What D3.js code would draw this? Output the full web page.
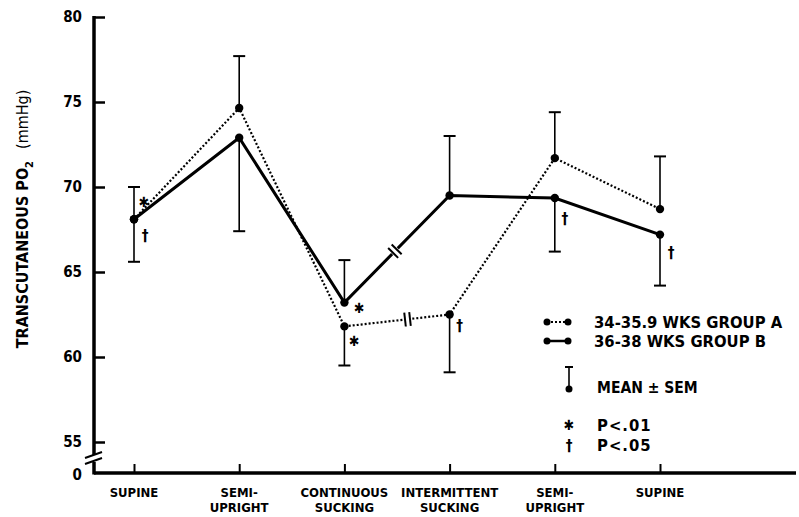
<!DOCTYPE html>
<html>
<head>
<meta charset="utf-8">
<script src="https://cdn.jsdelivr.net/npm/d3@7"></script>
<style>
  body { margin: 0; background: #fff; }
  text { font-family: "DejaVu Sans Condensed", "DejaVu Sans", sans-serif; font-weight: bold; fill: #000; }
</style>
</head>
<body>
<svg id="chart" width="799" height="517"></svg>
<script>
// categories along the x axis (two lines each)
const categories = ["SUPINE", "SEMI-UPRIGHT", "CONTINUOUS SUCKING", "INTERMITTENT SUCKING", "SEMI-UPRIGHT 2", "SUPINE 2"];
const catLabels = [["SUPINE"], ["SEMI-", "UPRIGHT"], ["CONTINUOUS", "SUCKING"], ["INTERMITTENT", "SUCKING"], ["SEMI-", "UPRIGHT"], ["SUPINE"]];

// group A: 34-35.9 wks (dotted), group B: 36-38 wks (solid)
const groupA = [68.1, 74.65, 61.8, 62.5, 71.7, 68.7];
const groupB = [68.1, 72.9, 63.2, 69.5, 69.35, 67.2];
const semA = [1.9, 3.05, 2.3, 3.4, 2.7, 3.1];
const semB = [2.5, 5.5, 2.5, 3.5, 3.15, 3.0];
const dirA = [1, 1, -1, -1, 1, 1];   // 1 = bar drawn above mean, -1 = below
const dirB = [-1, -1, 1, 1, -1, -1];

// significance marks: [category index, group, symbol]
const marks = [
  [0, "A", "*"], [0, "B", "†"],
  [2, "B", "*"], [2, "A", "*"],
  [3, "A", "†"], [4, "B", "†"], [5, "B", "†"]
];

const yTicks = [55, 60, 65, 70, 75, 80];

const svg = d3.select("#chart");

const x = d3.scalePoint().domain(categories).range([134, 660]);
const y = d3.scaleLinear().domain([55, 80]).range([442, 17]);
const axisX = 94, axisY = 473;
const STAR = "\u2731";

// y axis
const yAxis = d3.axisRight(y).tickValues(yTicks).tickSize(11).tickFormat("");
const gy = svg.append("g").attr("transform", `translate(${axisX},0)`).call(yAxis);
gy.select(".domain").remove();
gy.selectAll(".tick line").attr("stroke", "#000").attr("stroke-width", 2.5);
svg.append("line").attr("x1", axisX).attr("x2", axisX).attr("y1", y(80) - 1).attr("y2", 455)
  .attr("stroke", "#000").attr("stroke-width", 3.5);
svg.append("line").attr("x1", axisX).attr("x2", axisX).attr("y1", 462).attr("y2", axisY + 1.5)
  .attr("stroke", "#000").attr("stroke-width", 3.5);
// axis break
[455, 461].forEach(d => {
  svg.append("line").attr("x1", axisX - 9).attr("y1", d + 3).attr("x2", axisX + 8).attr("y2", d - 3)
    .attr("stroke", "#000").attr("stroke-width", 2);
});
svg.selectAll(".ylab").data(yTicks).join("text")
  .attr("x", 82).attr("y", d => y(d) + 5).attr("text-anchor", "end")
  .style("font-size", "15px").text(d => d);
svg.append("text").attr("x", 82).attr("y", 480).attr("text-anchor", "end").style("font-size", "15px").text("0");

// x axis
svg.append("line").attr("x1", axisX).attr("x2", 796).attr("y1", axisY).attr("y2", axisY)
  .attr("stroke", "#000").attr("stroke-width", 3.5);
const xAxis = d3.axisTop(x).tickSize(9).tickFormat("");
const gx = svg.append("g").attr("transform", `translate(0,${axisY})`).call(xAxis);
gx.select(".domain").remove();
gx.selectAll(".tick line").attr("stroke", "#000").attr("stroke-width", 2);
categories.forEach((c, i) => {
  catLabels[i].forEach((t, j) => {
    svg.append("text").attr("x", x(c)).attr("y", 497 + j * 15).attr("text-anchor", "middle")
      .style("font-size", "13px").text(t);
  });
});

// y axis title
const yt = svg.append("text").attr("transform", "translate(28,219) rotate(-90)")
  .attr("text-anchor", "middle").style("font-size", "16px");
yt.append("tspan").text("TRANSCUTANEOUS PO");
yt.append("tspan").attr("dy", 5).style("font-size", "11px").text("2");
yt.append("tspan").attr("dy", -5).attr("dx", 12).style("font-weight", "normal").text("(mmHg)");

// error bars
function errBars(vals, sems, dirs) {
  vals.forEach((v, i) => {
    const cx = x(categories[i]);
    const end = y(v + dirs[i] * sems[i]);
    svg.append("line").attr("x1", cx).attr("x2", cx).attr("y1", y(v)).attr("y2", end)
      .attr("stroke", "#000").attr("stroke-width", 1.6);
    svg.append("line").attr("x1", cx - 6).attr("x2", cx + 6).attr("y1", end).attr("y2", end)
      .attr("stroke", "#000").attr("stroke-width", 2);
  });
}
errBars(groupA, semA, dirA);
errBars(groupB, semB, dirB);

// lines
const line = d3.line().x((d, i) => x(categories[i])).y(d => y(d));
svg.append("path").datum(groupA).attr("d", line).attr("fill", "none")
  .attr("stroke", "#000").attr("stroke-width", 2.2).attr("stroke-dasharray", "2,2");
svg.append("path").datum(groupB).attr("d", line).attr("fill", "none")
  .attr("stroke", "#000").attr("stroke-width", 3);

// break marks on the segment between continuous and intermittent sucking
function breakMark(vals, t) {
  const x0 = x(categories[2]), x1 = x(categories[3]);
  const y0 = y(vals[2]), y1 = y(vals[3]);
  const px = x0 + (x1 - x0) * t, py = y0 + (y1 - y0) * t;
  const ang = Math.atan2(y1 - y0, x1 - x0);
  const nx = -Math.sin(ang), ny = Math.cos(ang);
  const ux = Math.cos(ang), uy = Math.sin(ang);
  svg.append("line").attr("x1", px - ux * 4).attr("y1", py - uy * 4).attr("x2", px + ux * 4).attr("y2", py + uy * 4)
    .attr("stroke", "#fff").attr("stroke-width", 5);
  [-2.5, 2.5].forEach(o => {
    svg.append("line")
      .attr("x1", px + ux * o - nx * 7).attr("y1", py + uy * o - ny * 7)
      .attr("x2", px + ux * o + nx * 7).attr("y2", py + uy * o + ny * 7)
      .attr("stroke", "#000").attr("stroke-width", 2);
  });
}
breakMark(groupB, 0.48);
breakMark(groupA, 0.6);

// points
svg.selectAll(".ptA").data(groupA).join("circle")
  .attr("cx", (d, i) => x(categories[i])).attr("cy", d => y(d)).attr("r", 4.2);
svg.selectAll(".ptB").data(groupB).join("circle")
  .attr("cx", (d, i) => x(categories[i])).attr("cy", d => y(d)).attr("r", 4.2);

// significance marks
const markOffset = {
  "0A": [10, -18], "0B": [11, 16], "2B": [15, 4], "2A": [10, 14],
  "3A": [10, 10], "4B": [10, 20], "5B": [11, 17]
};
marks.forEach(([i, g, s]) => {
  const v = g === "A" ? groupA[i] : groupB[i];
  const o = markOffset[i + g];
  svg.append("text").attr("x", x(categories[i]) + o[0]).attr("y", y(v) + o[1] + 6)
    .attr("text-anchor", "middle").style("font-size", s === "*" ? "14px" : "15px")
    .text(s === "*" ? STAR : s);
});

// legend
const lg = svg.append("g");
lg.append("line").attr("x1", 547).attr("x2", 568).attr("y1", 322).attr("y2", 322)
  .attr("stroke", "#000").attr("stroke-width", 2).attr("stroke-dasharray", "2,2");
lg.append("line").attr("x1", 547).attr("x2", 568).attr("y1", 341).attr("y2", 341)
  .attr("stroke", "#000").attr("stroke-width", 2.5);
[[547, 322], [568, 322], [547, 341], [568, 341]].forEach(p => {
  lg.append("circle").attr("cx", p[0]).attr("cy", p[1]).attr("r", 3.5);
});
lg.append("text").attr("x", 594).attr("y", 328).style("font-size", "16.5px").text("34-35.9 WKS  GROUP A");
lg.append("text").attr("x", 594).attr("y", 347).style("font-size", "16.5px").text("36-38 WKS  GROUP B");
lg.append("line").attr("x1", 569).attr("x2", 569).attr("y1", 367).attr("y2", 389)
  .attr("stroke", "#000").attr("stroke-width", 1.6);
lg.append("line").attr("x1", 565).attr("x2", 573).attr("y1", 367).attr("y2", 367)
  .attr("stroke", "#000").attr("stroke-width", 2);
lg.append("circle").attr("cx", 569).attr("cy", 389).attr("r", 3.5);
lg.append("text").attr("x", 597).attr("y", 393).style("font-size", "15.5px").text("MEAN ± SEM");
lg.append("text").attr("x", 569).attr("y", 430).attr("text-anchor", "middle").style("font-size", "14px").text(STAR);
lg.append("text").attr("x", 597).attr("y", 431).style("font-size", "16.5px").attr("letter-spacing", 1).text("P<.01");
lg.append("text").attr("x", 569).attr("y", 451).attr("text-anchor", "middle").style("font-size", "15px").text("†");
lg.append("text").attr("x", 597).attr("y", 451).style("font-size", "16.5px").attr("letter-spacing", 1).text("P<.05");
</script>
</body>
</html>
